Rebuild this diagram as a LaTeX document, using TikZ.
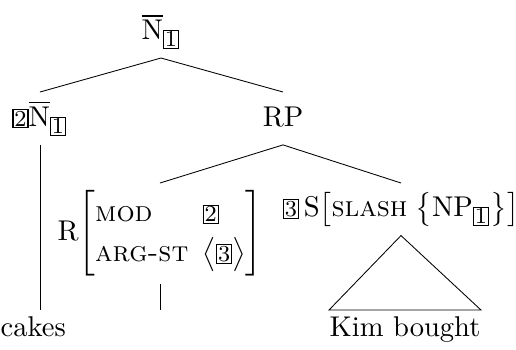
\documentclass[tikz,border=0pt]{standalone}
\usepackage{amsmath}
\usetikzlibrary{positioning}
\newcommand{\tagbox}[1]{{\setlength{\fboxsep}{0.3pt}\setlength{\fboxrule}{0.4pt}\fbox{\footnotesize #1}}}
\tikzstyle{cat} = [inner sep=3pt, font=\fontsize{10}{12}\selectfont]
\tikzstyle{avm} = [inner sep=2.5pt, font=\fontsize{10}{12}\selectfont]
\tikzstyle{word} = [inner xsep=0pt, inner ysep=2pt, font=\fontsize{10}{12}\selectfont]
\tikzstyle{branch} = [line width=0.3pt]
\begin{document}
\begin{tikzpicture}[x=0.35pt,y=-0.35pt]
	\useasboundingbox (0,0) rectangle (516,349);
	\node (top) [cat, anchor=south] at (161,58) {$\overline{\mathrm{N}}_{\tagbox{1}}$};
	\node (nbar) [cat, anchor=north] at (40,92) {$\tagbox{2}\overline{\mathrm{N}}_{\tagbox{1}}$};
	\node (rp) [cat, anchor=north] at (283,92) {$\vphantom{\overline{\mathrm{N}}_{\tagbox{1}}}\mathrm{RP}$};
	\node (rel) [avm, anchor=north] at (160,183) {\setlength{\arraycolsep}{2.5pt}\renewcommand{\arraystretch}{1.15}$\mathrm{R}\mkern-3mu\left[\begin{array}{@{}ll@{}}\textsc{mod} & \tagbox{2}\\ \textsc{arg-st} & \bigl\langle\tagbox{3}\bigr\rangle\end{array}\right]$};
	\node (sent) [cat, inner xsep=0.5pt, anchor=north] at (401,183) {$\tagbox{3}\,\mathrm{S}\bigl[\textsc{slash}\;\bigl\{\mathrm{NP}_{\tagbox{1}}\bigr\}\bigr]$};
	\node (cakes) [word, anchor=north west] at (0,310) {cakes};
	\node (kim) [word, anchor=north] at (405,310) {Kim bought};
	\draw [branch] (top.south) -- (nbar.north);
	\draw [branch] (top.south) -- (rp.north);
	\draw [branch] (nbar.south) -- (nbar.south |- cakes.north);
	\draw [branch] (rp.south) -- (rel.north);
	\draw [branch] (rp.south) -- (sent.north);
	\draw [branch] (rel.south) -- (rel.south |- cakes.north);
	% roof over the clause
	\draw [branch] (sent.south) -- (kim.north east) -- (kim.north west) -- cycle;
\end{tikzpicture}
\end{document}
